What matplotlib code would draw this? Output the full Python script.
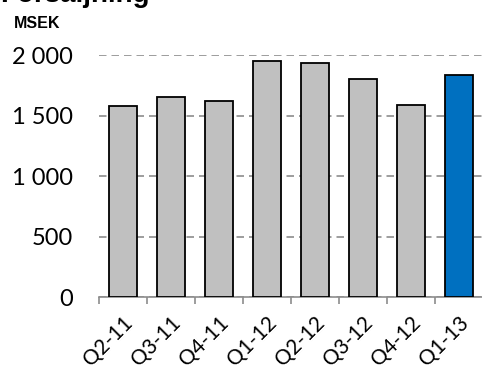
import numpy as np
import matplotlib.pyplot as plt

# Försäljning per kvartal, MSEK
quarters = ['Q2-11', 'Q3-11', 'Q4-11', 'Q1-12', 'Q2-12', 'Q3-12', 'Q4-12', 'Q1-13']
sales = [1583, 1657, 1617, 1953, 1934, 1804, 1589, 1836]
colors = ['#c0c0c0'] * 7 + ['#0070c0']

fig = plt.figure(figsize=(4.82, 3.67), dpi=100)
ax = fig.add_axes([0.2054, 0.19, 0.7967, 0.66])

x = np.arange(len(quarters))
ax.bar(x, sales, width=0.58, color=colors, edgecolor='black', linewidth=1.3, zorder=3)

ax.set_xlim(-0.5, len(quarters) - 0.5)
ax.set_ylim(0, 2000)
ax.set_yticks([0, 500, 1000, 1500, 2000])
ax.set_yticklabels(['0', '500', '1 000', '1 500', '2 000'], fontsize=17, family='Lato')
ax.yaxis.grid(True, linestyle=(0, (4.5, 3)), color='#8c8c8c', linewidth=1.2, zorder=0)
ax.tick_params(axis='y', length=0, pad=19)

# ticks between categories, labels at centres
ax.set_xticks(np.arange(len(quarters) + 1) - 0.5)
ax.set_xticklabels([])
ax.set_xticks(x, minor=True)
ax.set_xticklabels(quarters, minor=True, rotation=45, ha='right',
                   rotation_mode='anchor', fontsize=15, family='Lato')
ax.tick_params(axis='x', which='major', length=5, color='#8c8c8c', width=1.2)
ax.tick_params(axis='x', which='minor', length=0, pad=11)

for s in ['top', 'right', 'left']:
    ax.spines[s].set_visible(False)
ax.spines['bottom'].set_color('#8c8c8c')
ax.spines['bottom'].set_linewidth(1.2)

fig.text(0.0, 0.994, 'Försäljning', fontsize=20, fontweight='bold',
         family='Liberation Sans', va='baseline')
fig.text(0.029, 0.925, 'MSEK', fontsize=11.5, fontweight='bold',
         family='Liberation Sans', va='baseline')

fig.savefig('out.png', dpi=100)
